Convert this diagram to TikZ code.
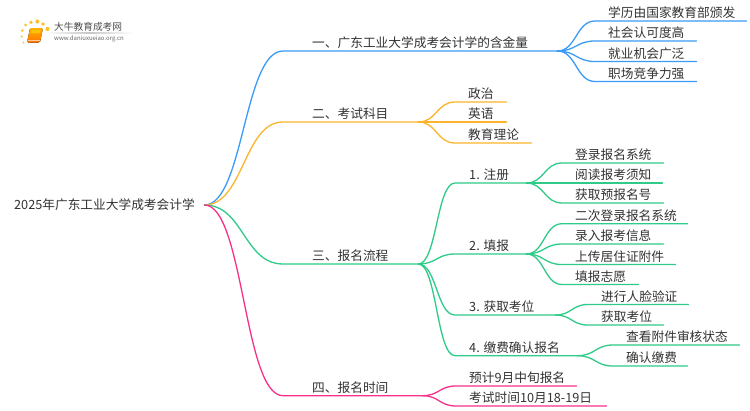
\documentclass[tikz,border=0pt]{standalone}
\usepackage{fontspec}
\setmainfont{Noto Sans CJK SC}
\usetikzlibrary{calc,shadings}
\definecolor{cblue}{HTML}{3A9BF8}
\definecolor{corange}{HTML}{FBB42C}
\definecolor{cgreen}{HTML}{2FCB88}
\definecolor{cpink}{HTML}{F9308A}
\definecolor{ctext}{HTML}{333333}
\tikzset{
  lbl/.style={anchor=south west,inner sep=0pt,text=ctext,font=\fontsize{12.7pt}{14pt}\selectfont,text height=11pt,text depth=3pt},
  conn/.style={line width=1.3pt,line cap=round,line join=round}
}
% name, parent, x0, y, x1, text-start, colour, text
\newcommand\branch[8]{%
  \node[lbl] (#1) at (#3,#4) {\makebox[\dimexpr #5pt-#3pt\relax][l]{\hspace{\dimexpr #6pt-#3pt\relax}#8}};
  \coordinate (m#1) at ($(#2)!.5!(#1.south west)$);
  \draw[conn,#7] (#2) .. controls (m#1 |- #2) and (m#1 |- #1.south west) .. (#1.south west) -- (#1.south east);
  \coordinate (#1j) at (#1.south east);
}
\begin{document}
\begin{tikzpicture}[x=1pt,y=-1pt]
\useasboundingbox (0,0) rectangle (750,410);
\fill[white] (0,0) rectangle (750,410);
% logo
\foreach \x/\y/\r in {25.7/25/1.5,31/22.3/1.8,37.3/21.5/2,43/24/1.9,47.5/29/2.1,22.3/30.5/1.3,21.7/36.5/1.1,23.5/42.5/1}
  \fill[corange!85!yellow] (\x,\y) circle (\r);
\fill[rounded corners=1.5pt,top color=orange!60!yellow,bottom color=orange!90!red] (30,28) -- (43,28) -- (40,42.5) -- (27,42.5) -- cycle;
\fill[yellow!55!orange] (31.8,29.8) -- (40.5,29.8) -- (39.7,33) -- (31,33) -- cycle;
\draw[white!60!orange,line width=.6pt] (28.2,40.6) -- (39.6,40.6);
\shade[left color=white,right color=white,middle color=black!22] (45,32.9) rectangle (133,33.4);
\node[inner sep=0pt,text=black!70,font=\fontsize{9.7pt}{11pt}\selectfont,anchor=west] (logoa) at (54,27) {大牛教育成考网};
\node[inner sep=0pt,text=black!60,font=\fontsize{6pt}{7pt}\selectfont,anchor=west] (logob) at (54,38.7) {www.daniuxueiao.org.cn};
% root
\node[lbl,anchor=west] (root) at (14,205) {\makebox[190pt][l]{2025年广东工业大学成考会计学}};
\coordinate (r) at (root.east);
% blue
\branch{a}{r}{283}{51}{557}{312}{cblue}{一、广东工业大学成考会计学的含金量}
\branch{a1}{aj}{595}{21}{746}{608}{cblue}{学历由国家教育部颁发}
\branch{a2}{aj}{595}{41}{696}{608}{cblue}{社会认可度高}
\branch{a3}{aj}{595}{61.5}{696}{608}{cblue}{就业机会广泛}
\branch{a4}{aj}{595}{81.5}{696}{608}{cblue}{职场竞争力强}
% orange
\branch{b}{r}{283}{122}{418}{312}{corange}{二、考试科目}
\branch{b1}{bj}{455}{102}{506}{468}{corange}{政治}
\branch{b2}{bj}{455}{122}{506}{468}{corange}{英语}
\branch{b3}{bj}{455}{143}{531}{468}{corange}{教育理论}
% green
\branch{c}{r}{283}{264}{418}{312}{cgreen}{三、报名流程}
\branch{c1}{cj}{455}{183}{526}{469}{cgreen}{1. 注册}
\branch{c2}{cj}{455}{254}{526}{469}{cgreen}{2. 填报}
\branch{c3}{cj}{455}{315}{555}{469}{cgreen}{3. 获取考位}
\branch{c4}{cj}{455}{355.7}{577}{469}{cgreen}{4. 缴费确认报名}
\branch{c11}{c1j}{562}{163}{663}{575}{cgreen}{登录报名系统}
\branch{c12}{c1j}{562}{183}{662}{575}{cgreen}{阅读报考须知}
\branch{c13}{c1j}{562}{203}{663}{575}{cgreen}{获取预报名号}
\branch{c21}{c2j}{562}{223.7}{687}{575}{cgreen}{二次登录报名系统}
\branch{c22}{c2j}{562}{244}{663}{575}{cgreen}{录入报考信息}
\branch{c23}{c2j}{562}{264.5}{675}{575}{cgreen}{上传居住证附件}
\branch{c24}{c2j}{562}{284.5}{638}{575}{cgreen}{填报志愿}
\branch{c31}{c3j}{588}{304.5}{688}{601}{cgreen}{进行人脸验证}
\branch{c32}{c3j}{588}{325}{663}{601}{cgreen}{获取考位}
\branch{c41}{c4j}{613}{345}{739}{626}{cgreen}{查看附件审核状态}
\branch{c42}{c4j}{613}{366}{687}{626}{cgreen}{确认缴费}
% pink
\branch{d}{r}{283}{395.7}{422}{312}{cpink}{四、报名时间}
\branch{d1}{dj}{456}{386}{576}{469}{cpink}{预计9月中旬报名}
\branch{d2}{dj}{456}{406}{606}{469}{cpink}{考试时间10月18-19日}
\end{tikzpicture}
\end{document}
